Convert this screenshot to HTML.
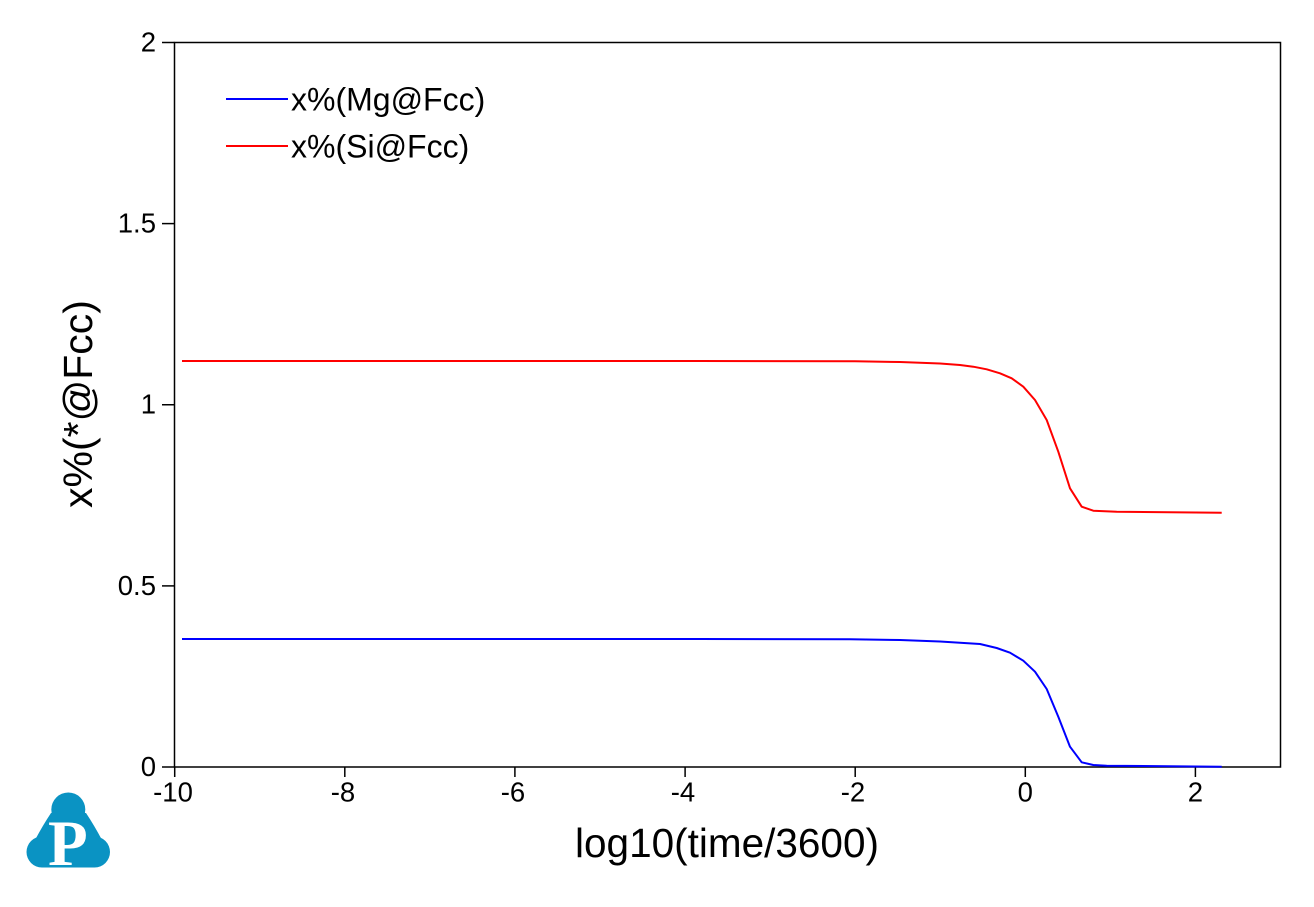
<!DOCTYPE html>
<html>
<head>
<meta charset="utf-8">
<style>
  html, body { margin:0; padding:0; background:#ffffff; }
  svg { display:block; }
</style>
</head>
<body>
<svg width="1314" height="907" viewBox="0 0 1314 907" xmlns="http://www.w3.org/2000/svg" font-family="'Liberation Sans', Arial, sans-serif">
  <rect x="0" y="0" width="1314" height="907" fill="#ffffff"/>

  <!-- plot frame -->
  <rect x="174.5" y="42.5" width="1106" height="724.5" fill="none" stroke="#000" stroke-width="1.5"/>

  <!-- y ticks -->
  <g stroke="#000" stroke-width="1.5">
    <line x1="162" y1="767" x2="174.5" y2="767"/>
    <line x1="162" y1="585.9" x2="174.5" y2="585.9"/>
    <line x1="162" y1="404.75" x2="174.5" y2="404.75"/>
    <line x1="162" y1="223.6" x2="174.5" y2="223.6"/>
    <line x1="162" y1="42.5" x2="174.5" y2="42.5"/>
  </g>
  <g font-size="27.5" text-anchor="end" fill="#000">
    <text x="156" y="776">0</text>
    <text x="156" y="594.9">0.5</text>
    <text x="156" y="413.7">1</text>
    <text x="156" y="232.6">1.5</text>
    <text x="156" y="51.5">2</text>
  </g>

  <!-- x ticks -->
  <g stroke="#000" stroke-width="1.5">
    <line x1="174.7" y1="767" x2="174.7" y2="777"/>
    <line x1="344.8" y1="767" x2="344.8" y2="777"/>
    <line x1="514.9" y1="767" x2="514.9" y2="777"/>
    <line x1="685.1" y1="767" x2="685.1" y2="777"/>
    <line x1="855.2" y1="767" x2="855.2" y2="777"/>
    <line x1="1025.3" y1="767" x2="1025.3" y2="777"/>
    <line x1="1195.4" y1="767" x2="1195.4" y2="777"/>
  </g>
  <g font-size="27.5" text-anchor="middle" fill="#000">
    <text x="173" y="801.5">-10</text>
    <text x="343" y="801.5">-8</text>
    <text x="513" y="801.5">-6</text>
    <text x="683" y="801.5">-4</text>
    <text x="853" y="801.5">-2</text>
    <text x="1025.3" y="801.5">0</text>
    <text x="1195.4" y="801.5">2</text>
  </g>

  <!-- axis titles -->
  <text x="727" y="857" font-size="40.5" text-anchor="middle" fill="#000">log10(time/3600)</text>
  <text transform="translate(92,404) rotate(-90)" font-size="41" text-anchor="middle" fill="#000">x%(*@Fcc)</text>

  <!-- series: Si (red) -->
  <polyline fill="none" stroke="#ff0000" stroke-width="2" stroke-linejoin="round"
    points="182,361 700,361 855,361.3 900,362 940,363.5 960,365 973.3,366.7 986.7,369.3 1000,373.3 1011.7,378.3 1023.3,386.7 1035,400 1046.7,420 1058.3,451.7 1070,488.3 1081.7,506.7 1093.3,510.7 1116.7,511.7 1221.7,512.7"/>

  <!-- series: Mg (blue) -->
  <polyline fill="none" stroke="#0000ff" stroke-width="2" stroke-linejoin="round"
    points="182,639 700,639 850,639.2 900,640 940,641.5 960,642.7 980,644 996.7,648 1010,652.7 1023.3,660.7 1035,671.7 1046.7,689 1058.3,716.7 1070,746.7 1081.7,762.3 1093.3,765 1106.7,765.7 1221.7,766.7"/>

  <!-- legend -->
  <line x1="226" y1="99" x2="288" y2="99" stroke="#0000ff" stroke-width="2"/>
  <text x="291" y="110.5" font-size="32" fill="#000">x%(Mg@Fcc)</text>
  <line x1="226" y1="146" x2="288" y2="146" stroke="#ff0000" stroke-width="2"/>
  <text x="291" y="157.5" font-size="32" fill="#000">x%(Si@Fcc)</text>

  <!-- logo -->
  <g fill="#0a93c3">
    <circle cx="68.3" cy="809.5" r="17"/>
    <circle cx="42" cy="852" r="15.5"/>
    <circle cx="94.5" cy="852" r="15.5"/>
    <path d="M51,813 Q43,825 35,840 L33,852 L42,867.5 L94.5,867.5 L104,852 L102,840 Q94,825 86,813 Z"/>
  </g>
  <text x="48" y="865" font-family="'Liberation Serif', 'DejaVu Serif', serif" font-weight="bold" font-size="65" fill="#ffffff">P</text>
</svg>
</body>
</html>
